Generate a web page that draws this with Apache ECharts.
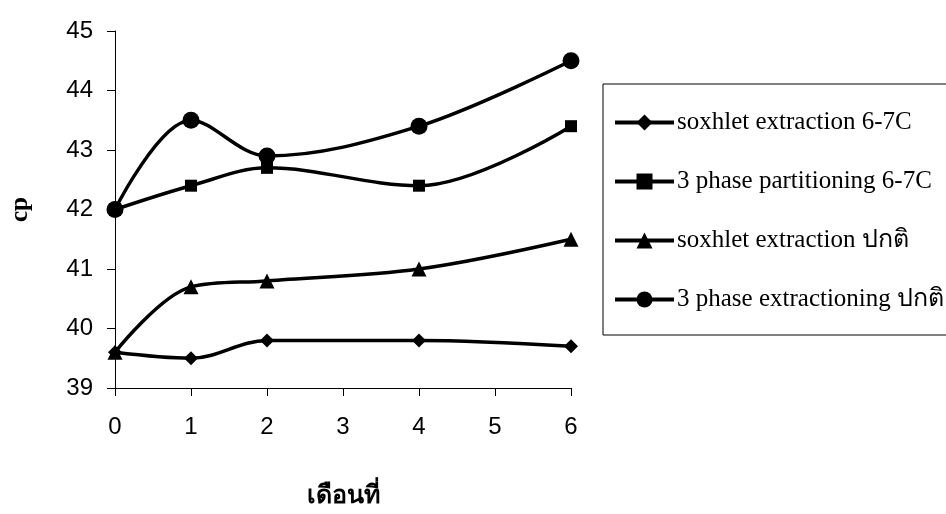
<!DOCTYPE html>
<html><head><meta charset="utf-8">
<script src="https://cdn.jsdelivr.net/npm/echarts@6/dist/echarts.min.js"></script>
<style>html,body{margin:0;padding:0;background:#fff}#c{width:946px;height:514px}</style>
</head><body><div id="c"></div>
<script>
const months = [0, 1, 2, 4, 6];
const seriesNames = ['soxhlet extraction 6-7C', '3 phase partitioning 6-7C', 'soxhlet extraction ปกติ', '3 phase extractioning ปกติ'];
const soxhletCold = [39.6, 39.5, 39.8, 39.8, 39.7];
const tppCold = [42.0, 42.4, 42.7, 42.4, 43.4];
const soxhletNormal = [39.6, 40.7, 40.8, 41.0, 41.5];
const tppNormal = [42.0, 43.5, 42.9, 43.4, 44.5];
const yTicks = [39, 40, 41, 42, 43, 44, 45];
const xTicks = [0, 1, 2, 3, 4, 5, 6];

const symbols = ['diamond', 'rect', 'triangle', 'circle'];
const sizes = [14, 12, 15, 17];
const values = [soxhletCold, tppCold, soxhletNormal, tppNormal];

const chart = echarts.init(document.getElementById('c'));
chart.setOption({
  animation: false,
  backgroundColor: '#fff',
  grid: {left: 115, right: 375, top: 31, bottom: 126},
  xAxis: {
    type: 'value', min: xTicks[0], max: xTicks[xTicks.length-1], interval: 1,
    axisLine: {lineStyle: {color: '#000', width: 1}},
    axisTick: {show: true, inside: false, length: 8, lineStyle: {color: '#000'}},
    axisLabel: {color: '#000', fontFamily: 'Liberation Sans, Arial', fontSize: 24, margin: 27},
    splitLine: {show: false},
    name: 'เดือนที่', nameLocation: 'middle', nameGap: 96,
    nameTextStyle: {color: '#000', fontFamily: 'Liberation Serif, serif', fontWeight: 'bold', fontSize: 25}
  },
  yAxis: {
    type: 'value', min: yTicks[0], max: yTicks[yTicks.length-1], interval: 1,
    axisLine: {show: true, lineStyle: {color: '#000', width: 1}},
    axisTick: {show: true, inside: false, length: 8, lineStyle: {color: '#000'}},
    axisLabel: {color: '#000', fontFamily: 'Liberation Sans, Arial', fontSize: 24, margin: 22},
    splitLine: {show: false},
    name: 'cp', nameLocation: 'middle', nameGap: 82, nameRotate: 90,
    nameTextStyle: {color: '#000', fontFamily: 'Liberation Serif, serif', fontWeight: 'bold', fontSize: 25}
  },
  legend: {
    orient: 'vertical', left: 603, top: 84,
    padding: [26, 40, 23, 10],
    itemGap: 34, itemWidth: 59, itemHeight: 20,
    borderColor: '#000', borderWidth: 1,
    lineStyle: {width: 4, color: '#000'},
    textStyle: {color: '#000', fontFamily: 'Liberation Serif, serif', fontSize: 25, lineHeight: 20, padding: [0,0,0,-2]},
    data: seriesNames
  },
  series: seriesNames.map((n, i) => ({
    name: n, type: 'line', smooth: 0.35,
    data: months.map((m, j) => [m, values[i][j]]),
    symbol: symbols[i], symbolSize: sizes[i],
    lineStyle: {color: '#000', width: 3.5},
    itemStyle: {color: '#000'},
    z: 2 + i
  }))
});
</script></body></html>
